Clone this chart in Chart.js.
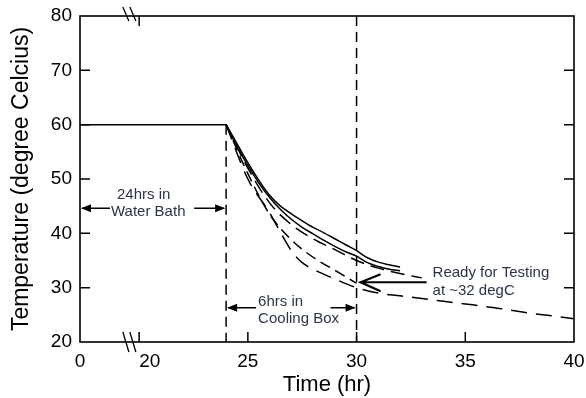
<!DOCTYPE html>
<html lang="en">
<head>
<meta charset="UTF-8">
<title>Cooling curves</title>
<script src="https://cdn.jsdelivr.net/npm/chart.js"></script>
<style>
  html, body { margin: 0; padding: 0; background: #fff; }
</style>
</head>
<body>
<canvas id="chart" width="586" height="398"></canvas>
<script>
// ticks
const xTickHours = [0, 20, 25, 30, 35, 40];
const yTicks = [20, 30, 40, 50, 60, 70, 80];

// 24 h in the water bath at 60 degC
const bathHours = [0, 24];
const bathTemps = [60, 60];

// cooling box curves (hours, degC)
const solidAHours = [24, 24.5, 25, 25.5, 26, 26.5, 27, 27.5, 28, 28.5, 29, 29.5, 30, 30.5, 31, 31.5, 32];
const solidATemps = [60, 56.5, 53, 49.8, 47.0, 45.0, 43.6, 42.3, 41.1, 40.1, 39.0, 37.9, 36.8, 35.5, 34.7, 34.2, 33.8];

const solidBHours = [24, 24.5, 25, 25.5, 26, 26.5, 27, 27.5, 28, 28.5, 29, 29.5, 30, 30.5, 31, 31.5, 32];
const solidBTemps = [60, 56, 52.5, 49.3, 46.6, 44.4, 42.6, 41.1, 39.9, 38.7, 37.6, 36.6, 35.8, 34.6, 33.9, 33.4, 33.1];

const dashCHours = [24, 25, 26, 27, 28, 29, 30, 31, 32, 33];
const dashCTemps = [60, 52, 45.6, 41.6, 39.0, 37.0, 35.0, 33.6, 32.6, 31.8];

const dashDHours = [24, 25, 26, 27, 28, 29, 30];
const dashDTemps = [60, 51, 43.5, 38.8, 35.6, 33.2, 30.8];

const dashEHours = [24, 25, 26, 26.5, 27, 27.5, 28, 29, 30, 31, 32, 33, 34, 35, 36, 37, 38, 39, 40];
const dashETemps = [60, 50, 43.8, 40.2, 36.8, 34.6, 33.4, 31.6, 30.0, 29.0, 28.5, 28.0, 27.5, 27.0, 26.5, 25.9, 25.3, 24.8, 24.3];

// the 0-20 h stretch is squeezed in front of the axis break
const BREAK_AT = 20;
const SQUEEZE = 0.136;
function axisX(h) {
  return h >= BREAK_AT ? h : BREAK_AT - (BREAK_AT - h) * SQUEEZE;
}
function pts(hours, temps) {
  return hours.map((h, i) => ({ x: axisX(h), y: temps[i] }));
}

const FONT = "'Liberation Sans', Arial, sans-serif";
const TEXT_COL = '#2c3547';

function line(ds, dash) {
  return {
    data: ds, borderColor: '#000', borderWidth: 1.5, borderDash: dash || [],
    pointRadius: 0, fill: false, cubicInterpolationMode: 'monotone'
  };
}

function arrowHead(ctx, x, y, dir) {
  ctx.beginPath();
  ctx.moveTo(x, y);
  ctx.lineTo(x - dir * 10, y - 4);
  ctx.lineTo(x - dir * 10, y + 4);
  ctx.closePath();
  ctx.fill();
}

const decor = {
  id: 'decor',
  afterDatasetsDraw(chart) {
    const { ctx, chartArea: a, scales: { x, y } } = chart;
    ctx.save();
    ctx.strokeStyle = '#000';
    ctx.fillStyle = '#000';

    // frame
    ctx.lineWidth = 1.6;
    ctx.strokeRect(a.left, a.top, a.right - a.left, a.bottom - a.top);

    // inward ticks
    ctx.lineWidth = 1.5;
    ctx.beginPath();
    yTicks.slice(1, -1).forEach(v => {
      const py = y.getPixelForValue(v);
      ctx.moveTo(a.left, py); ctx.lineTo(a.left + 10, py);
      ctx.moveTo(a.right, py); ctx.lineTo(a.right - 10, py);
    });
    xTickHours.slice(1, -1).forEach(h => {
      const px = x.getPixelForValue(axisX(h));
      ctx.moveTo(px, a.bottom); ctx.lineTo(px, a.bottom - 10);
    });
    const p20 = x.getPixelForValue(20);
    ctx.moveTo(p20, a.top); ctx.lineTo(p20, a.top + 10);
    ctx.stroke();

    // axis break marks
    const pb = x.getPixelForValue(19.55);
    ctx.lineWidth = 1.3;
    ctx.beginPath();
    [-3.5, 3.5].forEach(d => {
      ctx.moveTo(pb + d - 3, a.bottom - 10); ctx.lineTo(pb + d + 3, a.bottom + 10);
      ctx.moveTo(pb + d - 3, a.top - 9); ctx.lineTo(pb + d + 3, a.top + 5);
    });
    ctx.stroke();

    // dashed markers at 24 h and 30 h
    ctx.setLineDash([10, 6]);
    ctx.lineWidth = 1.5;
    const p24 = x.getPixelForValue(24), p30 = x.getPixelForValue(30);
    ctx.beginPath();
    ctx.moveTo(p24, y.getPixelForValue(60)); ctx.lineTo(p24, a.bottom);
    ctx.moveTo(p30, a.top); ctx.lineTo(p30, a.bottom);
    ctx.stroke();
    ctx.setLineDash([]);

    // 24hrs in water bath
    ctx.lineWidth = 1.5;
    const yb = y.getPixelForValue(44.6);
    ctx.beginPath();
    ctx.moveTo(a.left + 2, yb); ctx.lineTo(a.left + 30, yb);
    ctx.moveTo(p24 - 32, yb); ctx.lineTo(p24 - 2, yb);
    ctx.stroke();
    arrowHead(ctx, a.left + 1, yb, -1);
    arrowHead(ctx, p24 - 1, yb, 1);

    // 6hrs in cooling box
    const yc = y.getPixelForValue(26.3);
    ctx.beginPath();
    ctx.moveTo(p24 + 2, yc); ctx.lineTo(p24 + 30, yc);
    ctx.moveTo(p30 - 26, yc); ctx.lineTo(p30 - 2, yc);
    ctx.stroke();
    arrowHead(ctx, p24 + 1, yc, -1);
    arrowHead(ctx, p30 - 1, yc, 1);

    // ready for testing arrow
    const yr = y.getPixelForValue(31.0);
    const tip = p30 + 4;
    ctx.lineWidth = 2.2;
    ctx.beginPath();
    ctx.moveTo(tip + 66, yr); ctx.lineTo(tip, yr);
    ctx.moveTo(tip + 20, yr - 8); ctx.lineTo(tip, yr); ctx.lineTo(tip + 20, yr + 9);
    ctx.stroke();

    // texts
    ctx.fillStyle = TEXT_COL;
    ctx.font = '15px ' + FONT;
    ctx.textBaseline = 'middle';
    ctx.textAlign = 'left';
    ctx.fillText('24hrs in', a.left + 37, yb - 13);
    ctx.fillText('Water Bath', a.left + 31, yb + 4);
    ctx.fillText('6hrs in', p24 + 32, yc - 6);
    ctx.fillText('Cooling Box', p24 + 32, yc + 11);
    ctx.fillText('Ready for Testing', tip + 72, yr - 9);
    ctx.fillText('at ~32 degC', tip + 72, yr + 9);
    ctx.restore();
  }
};

new Chart(document.getElementById('chart'), {
  type: 'line',
  data: {
    datasets: [
      line(pts(bathHours, bathTemps)),
      line(pts(solidAHours, solidATemps)),
      line(pts(solidBHours, solidBTemps)),
      line(pts(dashCHours, dashCTemps), [14, 7]),
      line(pts(dashDHours, dashDTemps), [11, 6]),
      line(pts(dashEHours, dashETemps), [16, 9])
    ]
  },
  options: {
    responsive: false,
    animation: false,
    devicePixelRatio: 1,
    layout: { padding: { top: 16, right: 12, left: 0, bottom: 0 } },
    plugins: { legend: { display: false }, tooltip: { enabled: false } },
    scales: {
      x: {
        type: 'linear',
        min: axisX(0),
        max: 40,
        grid: { display: false, drawTicks: false },
        border: { display: false },
        afterBuildTicks: s => { s.ticks = xTickHours.map(h => ({ value: axisX(h) })); },
        afterFit: s => { s.height = 56; s.paddingLeft = 0; s.paddingRight = 0; },
        ticks: {
          color: '#000', font: { family: FONT, size: 19 }, padding: 8,
          autoSkip: false, maxRotation: 0,
          callback: (v, i) => xTickHours[i] === 20 ? '    20' : String(xTickHours[i])
        },
        title: {
          display: true, text: 'Time (hr)', color: '#000',
          font: { family: FONT, size: 22 }, padding: { top: 0, bottom: 0 }
        }
      },
      y: {
        min: 20,
        max: 80,
        grid: { display: false, drawTicks: false },
        border: { display: false },
        afterBuildTicks: s => { s.ticks = yTicks.map(v => ({ value: v })); },
        afterFit: s => { s.width = 80; s.paddingTop = 0; s.paddingBottom = 0; },
        ticks: { color: '#000', font: { family: FONT, size: 19 }, padding: 8 },
        title: {
          display: true, text: 'Temperature (degree Celcius)', color: '#000',
          font: { family: FONT, size: 23 }, padding: { top: 8, bottom: 0 }
        }
      }
    }
  },
  plugins: [decor]
});
</script>
</body>
</html>
